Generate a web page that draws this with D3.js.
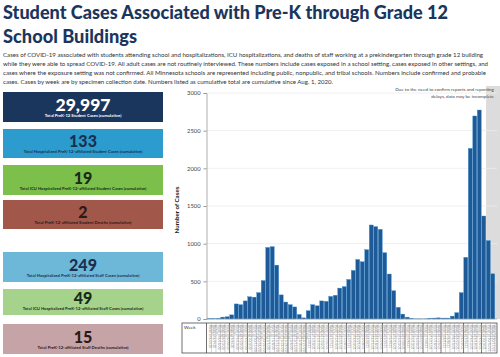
<!DOCTYPE html>
<html>
<head>
<meta charset="utf-8">
<script src="https://cdn.jsdelivr.net/npm/d3@7"></script>
<style>
  html, body { margin: 0; padding: 0; background: #fff; }
  svg { display: block; }
</style>
</head>
<body>
<div id="chart"></div>
<script>
// ---------- DATA ----------
const weekLabels = [
  "8/2/20","8/9/20","8/16/20","8/23/20","8/30/20",
  "9/6/20","9/13/20","9/20/20","9/27/20",
  "10/4/20","10/11/20","10/18/20","10/25/20",
  "11/1/20","11/8/20","11/15/20","11/22/20","11/29/20",
  "12/6/20","12/13/20","12/20/20","12/27/20",
  "1/3/21","1/10/21","1/17/21","1/24/21","1/31/21",
  "2/7/21","2/14/21","2/21/21","2/28/21",
  "3/7/21","3/14/21","3/21/21","3/28/21",
  "4/4/21","4/11/21","4/18/21","4/25/21",
  "5/2/21","5/9/21","5/16/21","5/23/21","5/30/21",
  "6/6/21","6/13/21","6/20/21","6/27/21",
  "7/4/21","7/11/21","7/18/21","7/25/21",
  "8/1/21","8/8/21","8/15/21","8/22/21","8/29/21",
  "9/5/21","9/12/21","9/19/21","9/26/21",
  "10/3/21","10/10/21","10/17/21"
];
const weeklyCases = [
  5,5,8,25,30,55,200,190,240,295,
  290,350,510,950,960,715,320,225,190,160,
  60,15,110,190,175,240,235,300,315,410,
  430,525,645,790,760,920,1248,1226,1190,880,
  597,375,155,65,25,8,2,2,2,10,
  12,15,12,12,38,84,350,819,2265,2695,
  2774,1367,1040,600
];
const yTicks = [0, 500, 1000, 1500, 2000, 2500, 3000];
const incompleteWeeks = 2; // last weeks shaded as incomplete

const statValues = ["29,997", "133", "19", "2", "249", "49", "15"];
const statLabels = [
  "Total PreK-12 Student Cases (cumulative)",
  "Total Hospitalized PreK-12-affiliated Student Cases (cumulative)",
  "Total ICU Hospitalized PreK-12-affiliated Student Cases (cumulative)",
  "Total PreK-12-affiliated Student Deaths (cumulative)",
  "Total Hospitalized PreK-12-affiliated Staff Cases (cumulative)",
  "Total ICU Hospitalized PreK-12-affiliated Staff Cases (cumulative)",
  "Total PreK-12-affiliated Staff Deaths (cumulative)"
];

const titleLines = ["Student Cases Associated with Pre-K through Grade 12", "School Buildings"];
const descLines = [
  "Cases of COVID-19 associated with students attending school and hospitalizations, ICU hospitalizations, and deaths of staff working at a prekindergarten through grade 12 building",
  "while they were able to spread COVID-19. All adult cases are not routinely interviewed. These numbers include cases exposed in a school setting, cases exposed in other settings, and",
  "cases where the exposure setting was not confirmed. All Minnesota schools are represented including public, nonpublic, and tribal schools. Numbers include confirmed and probable",
  "cases. Cases by week are by specimen collection date. Numbers listed as cumulative total are cumulative since Aug. 1, 2020."
];
const noteLines = ["Due to the need to confirm reports and reporting", "delays, data may be incomplete"];

// ---------- STYLE / LAYOUT ----------
const W = 500, H = 357;
const navy = "#1b365d";
const font = "Lato, 'Open Sans', sans-serif";

const svg = d3.select("#chart").append("svg")
  .attr("width", W).attr("height", H)
  .style("font-family", font);

// Title
const titleY = [18.5, 43];
const titleW = [445, 134];
titleLines.forEach((t, i) => {
  svg.append("text")
    .attr("x", 3).attr("y", titleY[i])
    .attr("font-size", 18).attr("font-weight", 900)
    .attr("fill", navy)
    .attr("textLength", titleW[i]).attr("lengthAdjust", "spacingAndGlyphs")
    .text(t);
});

// Description
const descW = [480, 485, 483, 330];
descLines.forEach((t, i) => {
  svg.append("text")
    .attr("x", 3).attr("y", 56.5 + i * 9.3)
    .attr("font-size", 5.8).attr("fill", "#333")
    .attr("textLength", descW[i]).attr("lengthAdjust", "spacingAndGlyphs")
    .text(t);
});

// Stat boxes
const boxes = [
  {y: 92,  h: 30, fill: "#1b365d", tc: "#ffffff", fs: 17.5},
  {y: 129, h: 29, fill: "#2b9ccd", tc: "#1b2f4f", fs: 16},
  {y: 165, h: 30, fill: "#7cc04b", tc: "#1b2a1a", fs: 16},
  {y: 200, h: 29, fill: "#a2574b", tc: "#2a1a18", fs: 16},
  {y: 252, h: 30, fill: "#6db8d9", tc: "#1b2f4f", fs: 16},
  {y: 289, h: 26, fill: "#a6d38c", tc: "#1b2a1a", fs: 16},
  {y: 324, h: 30, fill: "#c5a3a7", tc: "#2a1a18", fs: 16}
];
const bx = 3, bw = 160;
boxes.forEach((b, i) => {
  const g = svg.append("g");
  g.append("rect").attr("x", bx).attr("y", b.y).attr("width", bw).attr("height", b.h).attr("fill", b.fill);
  g.append("text")
    .attr("x", bx + bw / 2).attr("y", b.y + b.h - 11.5)
    .attr("text-anchor", "middle")
    .attr("font-size", b.fs).attr("font-weight", 900).attr("fill", b.tc)
    .text(statValues[i]);
  g.append("text")
    .attr("x", bx + bw / 2).attr("y", b.y + b.h - 5)
    .attr("text-anchor", "middle")
    .attr("font-size", 4.2).attr("font-weight", 700).attr("fill", b.tc)
    .text(statLabels[i]);
});

// ---------- CHART ----------
const plot = {left: 206.5, right: 495, top: 93, bottom: 319};
const x = d3.scaleBand()
  .domain(weekLabels)
  .range([plot.left + 0.5, plot.right])
  .paddingInner(0.12).paddingOuter(0.05);
const y = d3.scaleLinear().domain([0, 3000]).range([plot.bottom, plot.top]);

// incomplete-data shading
const shadeStart = x(weekLabels[weekLabels.length - incompleteWeeks]) - x.step() * x.paddingInner() / 2;
svg.append("rect")
  .attr("x", shadeStart).attr("y", 86)
  .attr("width", W - shadeStart).attr("height", plot.bottom - 86)
  .attr("fill", "#dcdcdc");

// gridlines
svg.append("g").selectAll("line").data(yTicks.filter(d => d > 0)).join("line")
  .attr("x1", plot.left).attr("x2", W - 3)
  .attr("y1", d => y(d)).attr("y2", d => y(d))
  .attr("stroke", "#ececec").attr("stroke-width", 0.8);

// bars
svg.append("g").selectAll("rect").data(weeklyCases).join("rect")
  .attr("x", (d, i) => x(weekLabels[i]))
  .attr("width", x.bandwidth())
  .attr("y", d => y(d))
  .attr("height", d => plot.bottom - y(d))
  .attr("fill", "#1e5a97")
  .attr("stroke", "#3f8fd0").attr("stroke-width", 0.4);

// y axis
const yAxis = svg.append("g")
  .attr("transform", `translate(${plot.left},0)`)
  .call(d3.axisLeft(y).tickValues(yTicks).tickSize(3).tickPadding(3).tickFormat(d3.format("d")));
yAxis.select(".domain").attr("stroke", "#999").attr("stroke-width", 0.8);
yAxis.selectAll(".tick line").attr("stroke", "#999");
yAxis.selectAll(".tick text").attr("font-size", 5.8).attr("fill", "#444").attr("font-family", font);

// x baseline
svg.append("line").attr("x1", plot.left).attr("x2", plot.right + 2)
  .attr("y1", plot.bottom).attr("y2", plot.bottom).attr("stroke", "#999").attr("stroke-width", 0.6);

// y label
svg.append("text")
  .attr("transform", `translate(179,${(plot.top + plot.bottom) / 2 + 4}) rotate(-90)`)
  .attr("text-anchor", "middle")
  .attr("font-size", 6.2).attr("font-weight", 700).attr("fill", "#222")
  .text("Number of Cases");

// note
noteLines.forEach((t, i) => {
  svg.append("text")
    .attr("x", 494).attr("y", 91 + i * 6.5)
    .attr("text-anchor", "end")
    .attr("font-size", 4.6).attr("fill", "#444")
    .text(t);
});

// week table
const tTop = 323, tBot = 353, tLeft = 182, tRight = 497;
const table = svg.append("g");
table.append("rect").attr("x", tLeft).attr("y", tTop).attr("width", tRight - tLeft).attr("height", tBot - tTop)
  .attr("fill", "none").attr("stroke", "#333").attr("stroke-width", 0.7);
table.append("line").attr("x1", plot.left).attr("x2", plot.left).attr("y1", tTop).attr("y2", tBot)
  .attr("stroke", "#333").attr("stroke-width", 0.7);
table.append("text").attr("x", tLeft + 2).attr("y", tTop + 5.5)
  .attr("font-size", 4.5).attr("fill", "#333").text("Week");
weekLabels.forEach((lab, i) => {
  const cx = x(lab) + x.bandwidth() / 2;
  const edge = x(lab) + x.bandwidth() + x.step() * x.paddingInner() / 2;
  const monthChange = i < weekLabels.length - 1 && weekLabels[i + 1].split("/")[0] !== lab.split("/")[0];
  table.append("line")
    .attr("x1", edge).attr("x2", edge).attr("y1", tTop).attr("y2", tBot)
    .attr("stroke", monthChange ? "#222" : "#9a9a9a").attr("stroke-width", monthChange ? 0.6 : 0.4);
  table.append("text")
    .attr("transform", `translate(${cx - 0.6},${tTop + 2}) rotate(90)`)
    .attr("font-size", 3.2).attr("fill", "#8a8a8a")
    .text("Week of " + lab);
  table.append("text")
    .attr("transform", `translate(${cx + 1.6},${tTop + 2}) rotate(90)`)
    .attr("font-size", 3.2).attr("fill", "#a0a0a0")
    .text(lab);
});
</script>
</body>
</html>
